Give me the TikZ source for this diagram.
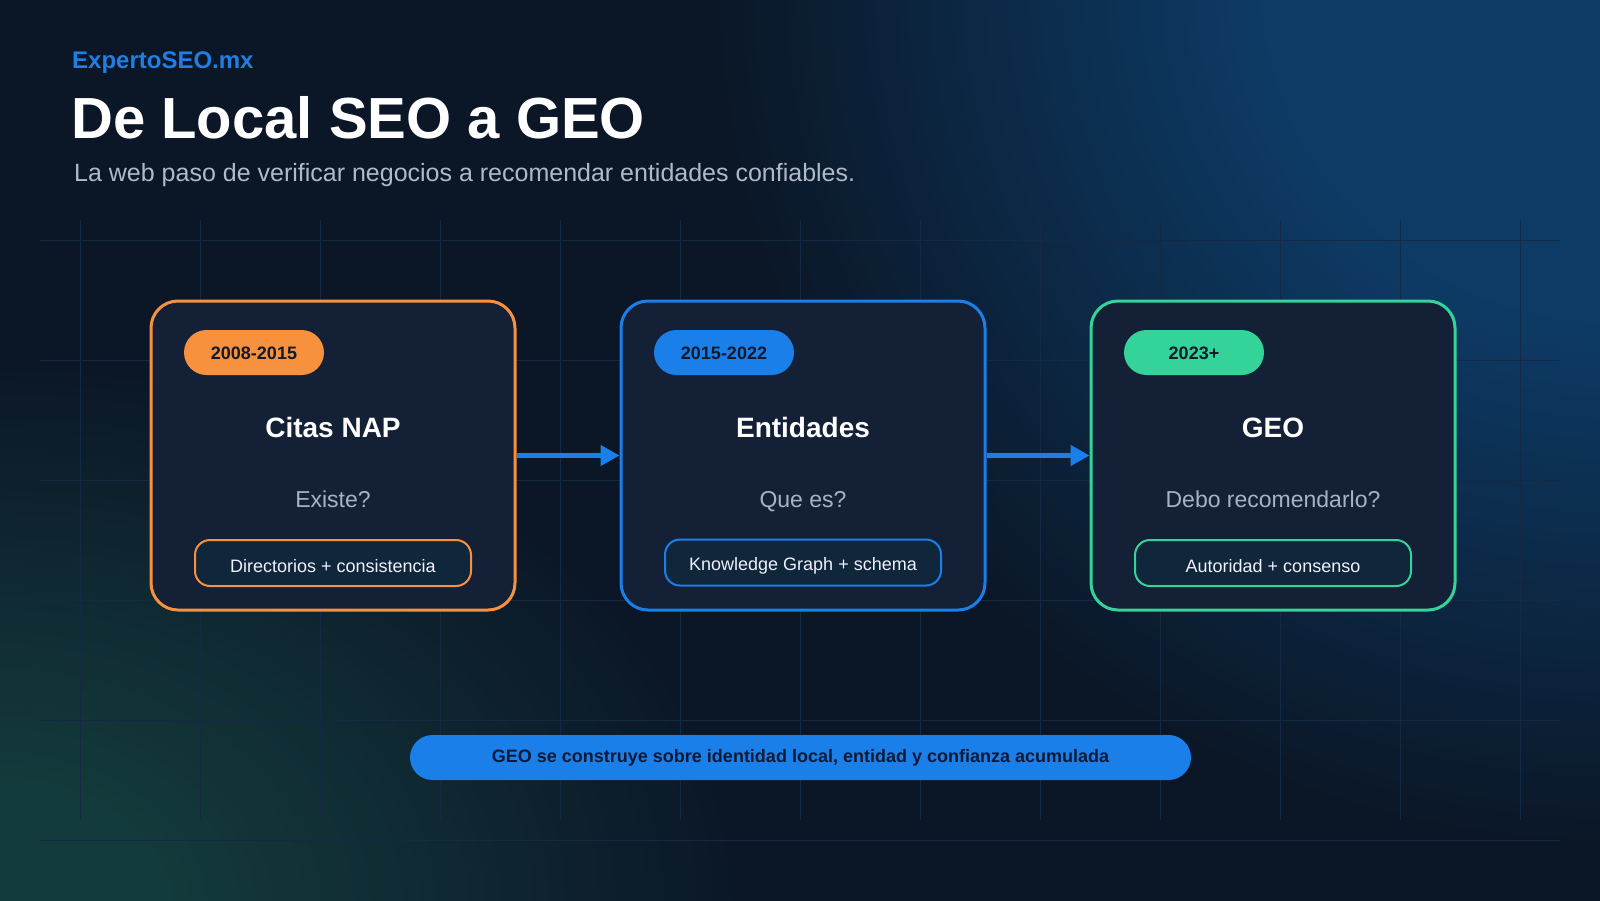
\documentclass[tikz,border=0pt]{standalone}
\usepackage{fontspec}
\setmainfont{Liberation Sans}
\usetikzlibrary{arrows.meta}
\definecolor{bgbase}{HTML}{0B1727}
\definecolor{glowblue}{HTML}{0D3B66}
\definecolor{glowteal}{HTML}{133A3C}
\definecolor{gridc}{HTML}{142A44}
\definecolor{brandblue}{HTML}{1F7FE5}
\definecolor{subgray}{HTML}{AFB9C8}
\definecolor{qgray}{HTML}{A7B3C4}
\definecolor{cardfill}{HTML}{142036}
\definecolor{pillfill}{HTML}{10263A}
\definecolor{corange}{HTML}{F7913D}
\definecolor{cblue}{HTML}{1A7FE8}
\definecolor{cgreen}{HTML}{34D399}
\definecolor{badgetext}{HTML}{111A2A}
\definecolor{bartext}{HTML}{0E1A35}
\tikzset{
  gridline/.style={draw=gridc, line width=1pt},
  card/.style={minimum width=364pt, minimum height=309pt, rounded corners=27pt,
    line width=3pt, fill=cardfill, inner sep=0pt},
  badge/.style={minimum width=140pt, minimum height=45pt, rounded corners=22.5pt,
    inner sep=0pt, text=badgetext, font=\bfseries\fontsize{18}{18}\selectfont,
    text height=13pt, text depth=0pt},
  cardtitle/.style={anchor=base, text=white, inner sep=0pt,
    font=\bfseries\fontsize{28}{28}\selectfont},
  question/.style={anchor=base, text=qgray, inner sep=0pt,
    font=\fontsize{23}{23}\selectfont},
  pill/.style={minimum width=276pt, minimum height=46pt, rounded corners=15pt,
    line width=2pt, fill=pillfill, inner sep=0pt, text=white!94!blue,
    font=\fontsize{18}{18}\selectfont, text height=18pt, text depth=0pt},
  flow/.style={draw=cblue, line width=4.5pt, -{Triangle[length=19pt,width=20pt]}},
}
\begin{document}
\begin{tikzpicture}[x=1pt,y=-1pt]
\useasboundingbox (0,0) rectangle (1600,900);
\begin{scope}
\clip (-6,-6) rectangle (1606,906);
\fill[bgbase] (-6,-6) rectangle (1606,906);
\foreach \i in {0,...,49}{
  \pgfmathsetmacro{\pct}{100*(\i+1)/50}
  \pgfmathsetmacro{\sc}{1-0.6*\i/49}
  \fill[glowblue!\pct!bgbase] (1620,-20) ellipse [x radius=900*\sc, y radius=860*\sc];
}
\foreach \i in {0,...,34}{
  \pgfmathsetmacro{\pct}{100*(\i+1)/35}
  \pgfmathsetmacro{\sc}{1-0.75*\i/34}
  \fill[glowteal!\pct!bgbase] (-10,910) ellipse [x radius=740*\sc, y radius=540*\sc];
}
\end{scope}
% grid
\foreach \gx in {80,200,...,1520} \draw[gridline] (\gx,220) -- (\gx,820);
\foreach \gy in {240,360,...,840} \draw[gridline] (40,\gy) -- (1560,\gy);
% header
\node[anchor=base west, inner sep=0pt, text=brandblue,
  font=\bfseries\fontsize{24}{24}\selectfont] (brand) at (72,68) {ExpertoSEO.mx};
\node[anchor=base west, inner sep=0pt, text=white,
  font=\bfseries\fontsize{58}{58}\selectfont] (title) at (71,138) {De Local SEO a GEO};
\node[anchor=base west, inner sep=0pt, text=subgray,
  font=\fontsize{25}{25}\selectfont] (subtitle) at (74,181)
  {La web paso de verificar negocios a recomendar entidades confiables.};
% cards
\node[card, draw=corange] (c1) at (333,455.5) {};
\node[card, draw=cblue] (c2) at (803,455.5) {};
\node[card, draw=cgreen] (c3) at (1273,455.5) {};
% badges
\node[badge, fill=corange] (b1) at (254,352.5) {2008-2015};
\node[badge, fill=cblue] (b2) at (724,352.5) {2015-2022};
\node[badge, fill=cgreen] (b3) at (1194,352.5) {2023+};
% titles
\node[cardtitle] (t1) at (333,437) {Citas NAP};
\node[cardtitle] (t2) at (803,437) {Entidades};
\node[cardtitle] (t3) at (1273,437) {GEO};
% questions
\node[question] (q1) at (333,507) {Existe?};
\node[question] (q2) at (803,507) {Que es?};
\node[question] (q3) at (1273,507) {Debo recomendarlo?};
% pills
\node[pill, draw=corange] (p1) at (333,563) {Directorios + consistencia};
\node[pill, draw=cblue, text height=15pt] (p2) at (803,562.5) {Knowledge Graph + schema};
\node[pill, draw=cgreen] (p3) at (1273,563) {Autoridad + consenso};
% connectors
\draw[flow] (c1.east) -- (c2.west);
\draw[flow] (c2.east) -- (c3.west);
% bottom bar
\node[minimum width=781pt, minimum height=45pt, rounded corners=22.5pt, inner sep=0pt,
  fill=cblue, text=bartext, font=\bfseries\fontsize{18}{18}\selectfont,
  text height=13pt, text depth=4pt] (note) at (800.5,757.5)
  {GEO se construye sobre identidad local, entidad y confianza acumulada};
\end{tikzpicture}
\end{document}
